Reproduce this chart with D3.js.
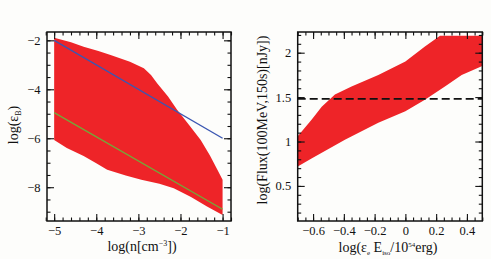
<!DOCTYPE html>
<html>
<head>
<meta charset="utf-8">
<style>
    body { margin: 0; background: #fdfdfb; }
    svg { display: block; }
    .tick text { font-size: 12.5px; fill: #111; }
    .tick line { stroke: #111; stroke-width: 1.1px; }
    .domain { display: none; }
    text.label { font-family: "Liberation Serif", "DejaVu Serif", serif; font-size: 14px; fill: #111; }
    rect.frame { fill: none; stroke: #111; stroke-width: 1.5px; }
</style>
</head>
<body>
<div id="chart"></div>
<script src="https://cdn.jsdelivr.net/npm/d3@7"></script>
<script>

    // left panel: allowed region in (log n, log eps_B)
    var nUpper = [-5.0, -4.6, -4.3, -3.95, -3.66, -3.2, -2.87, -2.7, -2.55, -2.3, -2.08, -1.8, -1.52, -1.3, -1.12, -1.0];
    var epsUpper = [-1.89, -2.08, -2.26, -2.44, -2.6, -2.88, -3.14, -3.42, -3.76, -4.28, -4.84, -5.45, -6.07, -6.7, -7.3, -7.7];
    var nLower = [-5.0, -4.7, -4.3, -4.0, -3.74, -3.3, -2.93, -2.5, -2.16, -1.75, -1.37, -1.0];
    var epsLower = [-6.07, -6.4, -6.72, -7.02, -7.29, -7.52, -7.7, -7.86, -8.04, -8.4, -8.79, -9.13];
    var blueN = [-5, -1], blueEps = [-2, -6];
    var greenN = [-5, -1], greenEps = [-4.95, -8.9];
    var leftXTicks = [-5, -4, -3, -2, -1];
    var leftYTicks = [-8, -6, -4, -2];

    // right panel: flux band vs log(eps_e E_iso)
    var eUpper = [-0.70, -0.61, -0.544, -0.458, -0.35, -0.176, 0, 0.127, 0.225, 0.5];
    var fluxUpper = [1.06, 1.245, 1.39, 1.53, 1.62, 1.75, 1.90, 2.07, 2.19, 2.19];
    var eLower = [-0.70, -0.61, -0.393, -0.176, 0, 0.127, 0.257, 0.366, 0.5];
    var fluxLower = [0.72, 0.81, 1.02, 1.21, 1.34, 1.47, 1.62, 1.75, 1.85];
    var fluxLimit = 1.48;
    var rightXTicks = [-0.6, -0.4, -0.2, 0, 0.2, 0.4];
    var rightYTicks = [0.5, 1, 1.5, 2];

    var width = 491, height = 259;
    var plotTop = 32, plotBottom = 221;
    var serif = '"Liberation Serif", "DejaVu Serif", serif';

    var svg = d3.select("#chart").append("svg")
        .attr("width", width)
        .attr("height", height);

    function range(a, b, step) {
        var out = [];
        for (var v = a; v <= b + 1e-9; v += step) out.push(+v.toFixed(4));
        return out;
    }

    function drawFrame(x, y, xMajor, xMinor, yMajor, yMinor, fmtX, fmtY) {
        var g = svg.append("g");
        var x0 = x.range()[0], x1 = x.range()[1];
        var y0 = y.range()[1], y1 = y.range()[0];

        function axes(axisFn, scale, ticks, size, pos, pad, fmt) {
            var a = axisFn(scale).tickValues(ticks).tickSizeInner(-size).tickSizeOuter(0)
                .tickPadding(pad || 0);
            a.tickFormat(pad ? fmt : "");
            g.append("g").attr("transform", pos).call(a)
                .attr("font-family", serif);
        }
        // minor ticks first, then majors on each of the four sides
        axes(d3.axisBottom, x, xMinor, 3.5, "translate(0," + y1 + ")");
        axes(d3.axisTop, x, xMinor, 3.5, "translate(0," + y0 + ")");
        axes(d3.axisLeft, y, yMinor, 3.5, "translate(" + x0 + ",0)");
        axes(d3.axisRight, y, yMinor, 3.5, "translate(" + x1 + ",0)");
        axes(d3.axisBottom, x, xMajor, 7, "translate(0," + y1 + ")", 5, fmtX);
        axes(d3.axisTop, x, xMajor, 7, "translate(0," + y0 + ")");
        axes(d3.axisLeft, y, yMajor, 7, "translate(" + x0 + ",0)", 6.5, fmtY);
        axes(d3.axisRight, y, yMajor, 7, "translate(" + x1 + ",0)");

        g.append("rect").attr("class", "frame")
            .attr("x", x0).attr("y", y0)
            .attr("width", x1 - x0).attr("height", y1 - y0);
    }

    // ---------- left panel ----------
    var xL = d3.scaleLinear().domain([-5.17, -0.8]).range([47, 231]);
    var yL = d3.scaleLinear().domain([-9.38, -1.66]).range([plotBottom, plotTop]);

    var bandL = d3.zip(nUpper, epsUpper).concat(d3.zip(nLower, epsLower).reverse());
    var lineL = d3.line().x(function (d) { return xL(d[0]); }).y(function (d) { return yL(d[1]); });

    svg.append("path").attr("d", lineL(bandL) + "Z").attr("fill", "#ee2428");
    svg.append("path").attr("d", lineL(d3.zip(blueN, blueEps)))
        .attr("fill", "none").attr("stroke", "#3b57b2").attr("stroke-width", 1.4);
    svg.append("path").attr("d", lineL(d3.zip(greenN, greenEps)))
        .attr("fill", "none").attr("stroke", "#74a83a").attr("stroke-width", 1.4);

    drawFrame(xL, yL, leftXTicks, range(-5.2, -0.8, 0.2), leftYTicks, range(-9, -2, 0.5),
        d3.format("d"), d3.format("d"));

    svg.append("text").attr("class", "label")
        .attr("transform", "translate(18,125) rotate(-90)")
        .attr("text-anchor", "middle")
        .html('log(ε<tspan dy="3" font-size="8">B</tspan><tspan dy="-3">)</tspan>');
    svg.append("text").attr("class", "label")
        .attr("x", 142).attr("y", 251).attr("text-anchor", "middle")
        .html('log(n[cm<tspan dy="-5" font-size="8">−3</tspan><tspan dy="5">])</tspan>');

    // ---------- right panel ----------
    var xR = d3.scaleLinear().domain([-0.7, 0.5]).range([297.7, 482.3]);
    var yR = d3.scaleLinear().domain([0.105, 2.233]).range([plotBottom, plotTop]);

    var bandR = d3.zip(eUpper, fluxUpper).concat(d3.zip(eLower, fluxLower).reverse());
    var lineR = d3.line().x(function (d) { return xR(d[0]); }).y(function (d) { return yR(d[1]); });

    svg.append("path").attr("d", lineR(bandR) + "Z").attr("fill", "#ee2428");
    svg.append("path").attr("d", lineR([[-0.7, fluxLimit], [0.5, fluxLimit]]))
        .attr("fill", "none").attr("stroke", "#111").attr("stroke-width", 1.6)
        .attr("stroke-dasharray", "8,4");

    drawFrame(xR, yR, rightXTicks, range(-0.7, 0.5, 0.05), rightYTicks, range(0.2, 2.2, 0.1),
        d3.format(".1~f"), d3.format(".1~f"));

    svg.append("text").attr("class", "label")
        .attr("transform", "translate(267,120) rotate(-90)")
        .attr("text-anchor", "middle")
        .text("log(Flux(100MeV,150s)[nJy])");
    svg.append("text").attr("class", "label")
        .attr("x", 388).attr("y", 252).attr("text-anchor", "middle")
        .html('log(ε<tspan dy="3" font-size="7">e</tspan><tspan dy="-3"> E</tspan>' +
              '<tspan dy="3" font-size="7">iso</tspan><tspan dy="-3">/10</tspan>' +
              '<tspan dy="-5" font-size="7">54</tspan><tspan dy="5">erg)</tspan>');

</script>
</body>
</html>
